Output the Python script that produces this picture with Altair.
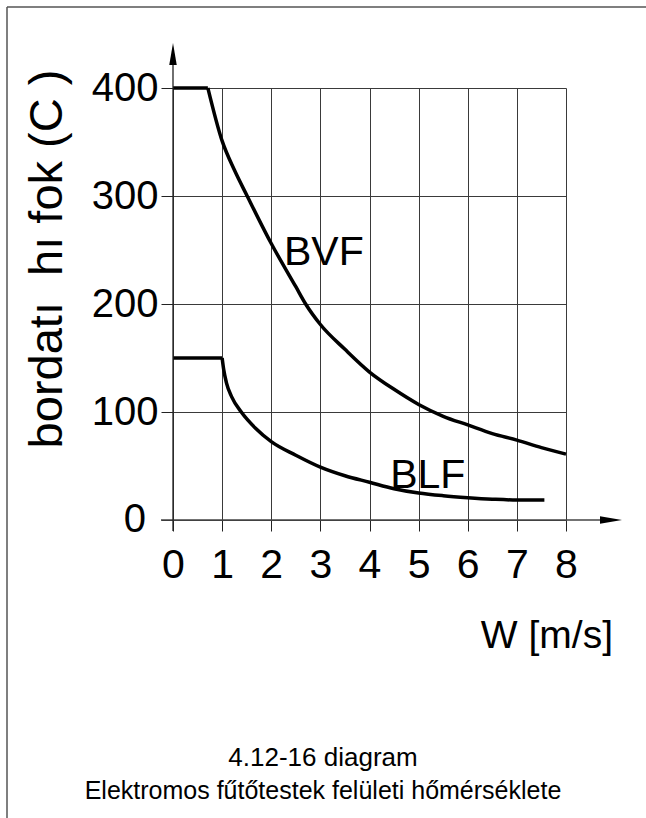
import altair as alt
import pandas as pd

# Surface temperature of electric heating elements vs. air velocity
bvf_w = [0, 0.71, 1.0, 1.25, 1.51, 2.0, 2.5, 2.7, 3.0, 3.5, 4.0, 4.5, 5.0, 5.5, 6.0, 6.5, 7.0, 7.5, 8.0]
bvf_t = [400, 400, 351, 324, 300, 256, 216, 200, 181, 158, 137, 121, 107, 96, 88, 80, 74, 67, 61]

blf_w = [0, 1.0, 1.033, 1.088, 1.195, 1.39, 1.68, 2.0, 2.5, 3.0, 3.5, 4.0, 4.5, 5.0, 5.5, 6.0, 6.5, 7.0, 7.56]
blf_t = [150, 150, 139, 127, 114, 100, 85, 72.6, 60, 49, 41, 35, 29, 25, 22.5, 20.7, 19.3, 18.5, 18.5]

x_ticks = [0, 1, 2, 3, 4, 5, 6, 7, 8]
y_ticks = [0, 100, 200, 300, 400]

labels = ["BVF", "BLF"]
label_w = [2.26, 4.42]
label_t = [236, 30]

y_title = "bordatı\u00a0 hı fok (C )"
x_title = "W [m/s]"
caption = ["4.12-16 diagram", "Elektromos fűtőtestek felületi hőmérséklete"]

W, H = 393, 432  # plot area
PAD = {"left": 173, "top": 88, "right": 80, "bottom": 298}

rows = []
for name, ws, ts in (("BVF", bvf_w, bvf_t), ("BLF", blf_w, blf_t)):
    # constant part up to the knee, then the falling curve
    for i in range(2):
        rows.append({"series": name, "part": name + "-flat", "order": i, "w": ws[i], "t": ts[i]})
    for i in range(1, len(ws)):
        rows.append({"series": name, "part": name + "-curve", "order": i, "w": ws[i], "t": ts[i]})
curves = pd.DataFrame(rows)

xs = alt.Scale(domain=[0, 8], nice=False, zero=False)
ys = alt.Scale(domain=[0, 400], nice=False)

base = alt.Chart(curves).encode(
    x=alt.X("w:Q", scale=xs, axis=alt.Axis(
        values=x_ticks, title=None, domain=False, grid=True, gridColor="#3a3a3a", gridWidth=1,
        ticks=True, tickSize=11, tickColor="#222", tickWidth=1,
        labelFont="Liberation Sans", labelFontSize=41, labelColor="black", labelPadding=14,
        labelFlush=False)),
    y=alt.Y("t:Q", scale=ys, axis=alt.Axis(
        values=y_ticks, title=None, domain=False, grid=True, gridColor="#3a3a3a", gridWidth=1,
        ticks=True, tickSize=12, tickColor="#222", tickWidth=1,
        labelFont="Liberation Sans", labelFontSize=40, labelColor="black", labelPadding=3,
        labelBaseline="middle", labelFlush=False,
        labelExpr="datum.value == 0 ? '' : datum.label")),
)

lines = base.mark_line(color="black", strokeWidth=3.5, interpolate="monotone", strokeCap="butt").encode(
    detail="part:N", order="order:Q")

lab_df = pd.DataFrame({"name": labels, "w": label_w, "t": label_t})
curve_labels = alt.Chart(lab_df).mark_text(
    font="Liberation Sans", fontSize=41, align="left", baseline="alphabetic", color="black"
).encode(x=alt.X("w:Q", scale=xs), y=alt.Y("t:Q", scale=ys), text="name:N")

one = pd.DataFrame({"k": [0]})

# the zero label of the temperature axis sits a little further left
zero_df = pd.DataFrame({"t": [y_ticks[0]], "txt": [str(y_ticks[0])]})
zero_label = alt.Chart(zero_df).mark_text(
    font="Liberation Sans", fontSize=40, align="right", baseline="middle", color="black"
).encode(x=alt.value(-27), y=alt.Y("t:Q", scale=ys), text="txt:N")

# axis lines with arrowheads
x_axis_line = alt.Chart(one).mark_rule(color="#444", strokeWidth=1.3).encode(
    x=alt.value(-12), x2=alt.value(440), y=alt.value(H))
y_axis_line = alt.Chart(one).mark_rule(color="#222", strokeWidth=1.3).encode(
    x=alt.value(0), y=alt.value(H + 11), y2=alt.value(-30))
x_arrow = alt.Chart(one).mark_point(
    shape="M1,0L-1,-0.34L-1,0.34Z", filled=True, color="black", opacity=1, size=484
).encode(x=alt.value(438), y=alt.value(H))
y_arrow = alt.Chart(one).mark_point(
    shape="M0,-1L-0.34,1L0.34,1Z", filled=True, color="black", opacity=1, size=484
).encode(x=alt.value(0), y=alt.value(-34))

# page frame (left and top edges)
frame_left = alt.Chart(one).mark_rule(color="#555", strokeWidth=1.5).encode(
    x=alt.value(-166), y=alt.value(-81), y2=alt.value(730))
frame_top = alt.Chart(one).mark_rule(color="#555", strokeWidth=1.5).encode(
    x=alt.value(-166), x2=alt.value(473), y=alt.value(-81))

y_title_mark = alt.Chart(one).mark_text(
    text=y_title, font="Liberation Sans", fontSize=47, angle=270, align="center",
    baseline="middle", color="black"
).encode(x=alt.value(-125), y=alt.value(171))

x_title_mark = alt.Chart(one).mark_text(
    text=x_title, font="Liberation Sans", fontSize=39, align="right",
    baseline="alphabetic", color="black"
).encode(x=alt.value(440), y=alt.value(560))

cap1 = alt.Chart(one).mark_text(
    text=caption[0], font="Liberation Sans", fontSize=26, align="center",
    baseline="alphabetic", color="black"
).encode(x=alt.value(150), y=alt.value(678))
cap2 = alt.Chart(one).mark_text(
    text=caption[1], font="Liberation Sans", fontSize=25, align="center",
    baseline="alphabetic", color="black"
).encode(x=alt.value(150), y=alt.value(711))

chart = alt.layer(
    lines, curve_labels, zero_label, x_axis_line, y_axis_line, x_arrow, y_arrow,
    frame_left, frame_top, y_title_mark, x_title_mark, cap1, cap2
).properties(
    width=W, height=H, padding=PAD, autosize="none", background="white"
).configure_view(stroke=None)

chart.save("out.html", embed_options={"renderer": "svg", "actions": False})
